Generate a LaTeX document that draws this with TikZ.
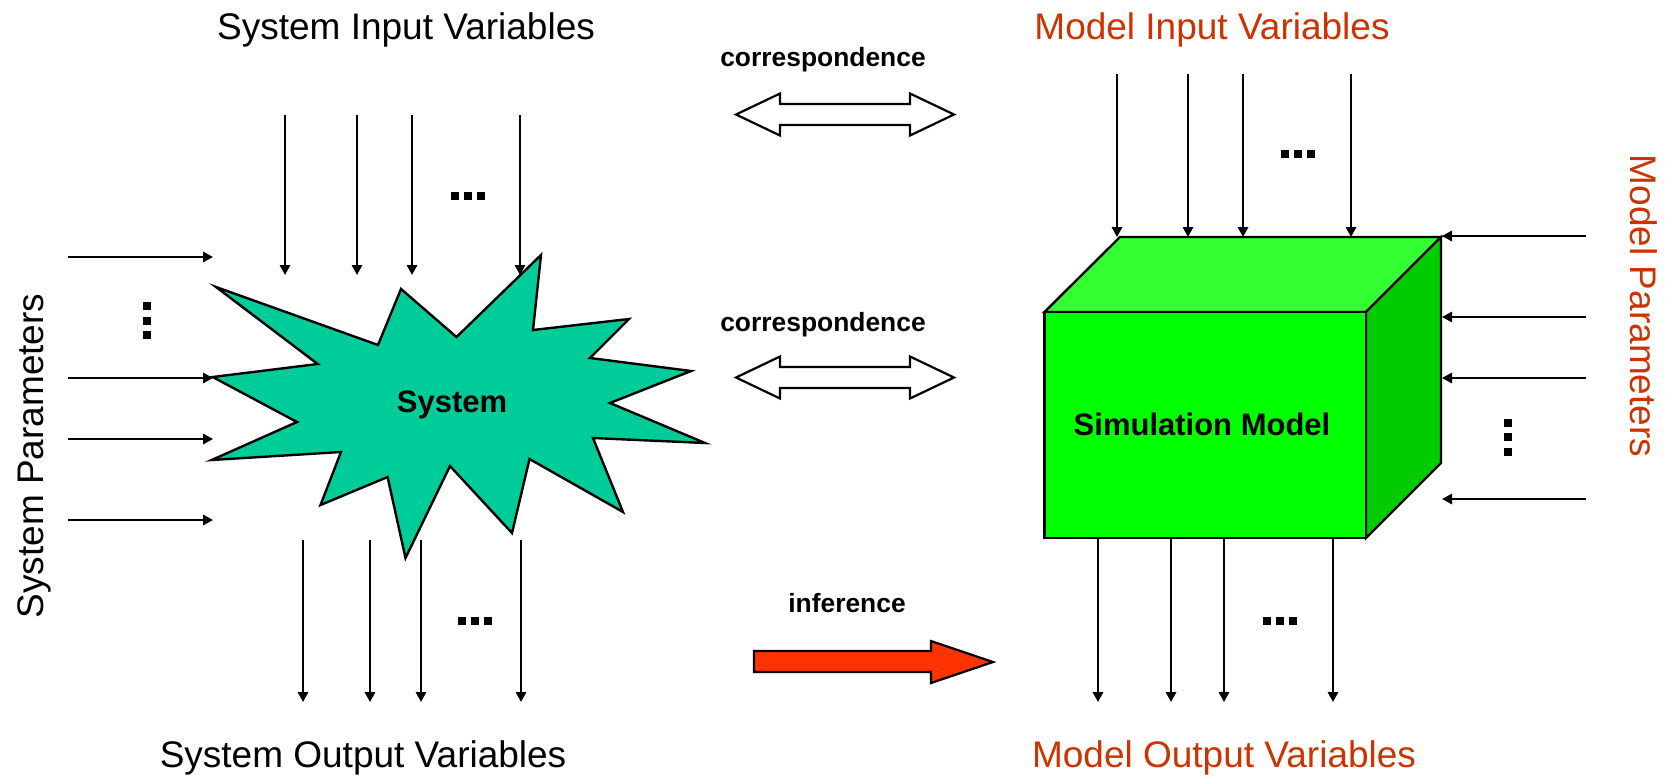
\documentclass[tikz,border=0pt]{standalone}
\usepackage{fontspec}
\setmainfont{Liberation Sans}
\usetikzlibrary{arrows.meta}
\definecolor{modelred}{RGB}{204,51,0}
\definecolor{starfill}{RGB}{0,204,153}
\definecolor{cubefront}{RGB}{0,255,0}
\definecolor{cubetop}{RGB}{51,255,51}
\definecolor{cubeside}{RGB}{0,204,0}
\definecolor{infred}{RGB}{255,51,0}
\begin{document}
\begin{tikzpicture}[x=0.5pt,y=-0.5pt,
  flow/.style={line width=1pt,-{Triangle[length=5pt,width=5.2pt]}},
  outline/.style={line width=1.2pt,line join=miter,draw=black},
  bigtext/.style={inner sep=0pt,anchor=base,font=\fontsize{18.5}{22}\selectfont},
  boldtext/.style={inner sep=0pt,anchor=base,font=\bfseries\fontsize{15.5}{18}\selectfont},
  smalltext/.style={inner sep=0pt,anchor=base,font=\bfseries\fontsize{13.2}{16}\selectfont},
  hdots/.pic={\foreach \d in {-13,0,13}{\fill (\d-4,-4) rectangle (\d+4,4);}},
  vdots/.pic={\foreach \d in {-14.5,0,14.5}{\fill (-4,\d-4) rectangle (4,\d+4);}},
  dblarrow/.pic={\draw[line width=1.1pt,fill=white,line join=miter]
      (-109,0) -- (-65,-21) -- (-65,-10.5) -- (65,-10.5) -- (65,-21) -- (109,0)
      -- (65,21) -- (65,10.5) -- (-65,10.5) -- (-65,21) -- cycle;},
]
\useasboundingbox (0,0) rectangle (1665,778);

% the real system: a jagged burst
\draw[outline,fill=starfill] (216,287) -- (378,345) -- (401,289) -- (456.5,337)
  -- (541,255) -- (533,330) -- (629,319) -- (590,358) -- (691,371) -- (610,403)
  -- (705,443) -- (593,438) -- (623,512) -- (529.5,459) -- (512,533) -- (450,466)
  -- (405.5,558) -- (387.6,477) -- (320.5,505) -- (341,452) -- (211.7,460)
  -- (297,422) -- (212.7,377) -- (317.7,364) -- cycle;
\node[boldtext] (system) at (452,412) {System};

% the simulation model: a cube
\draw[outline,fill=cubetop] (1044.5,312) -- (1120,237) -- (1441,237) -- (1366,312) -- cycle;
\draw[outline,fill=cubeside] (1366,312) -- (1441,237) -- (1441,463) -- (1366,538) -- cycle;
\draw[outline,fill=cubefront] (1044.5,312) rectangle (1366,538);
\node[boldtext] (model) at (1202,435) {Simulation Model};

% system inputs, outputs and parameters
\foreach \x [count=\i] in {285,357,412,520}{
  \coordinate (sinA\i) at (\x,115); \coordinate (sinB\i) at (\x,275);
  \draw[flow] (sinA\i) -- (sinB\i);}
\foreach \x [count=\i] in {303,370,421,521}{
  \coordinate (soutA\i) at (\x,540); \coordinate (soutB\i) at (\x,702);
  \draw[flow] (soutA\i) -- (soutB\i);}
\foreach \y [count=\i] in {257,378,439,520}{
  \coordinate (sparA\i) at (68,\y); \coordinate (sparB\i) at (213,\y);
  \draw[flow] (sparA\i) -- (sparB\i);}

% model inputs, outputs and parameters
\foreach \x [count=\i] in {1117,1188,1243,1351}{
  \coordinate (minA\i) at (\x,74); \coordinate (minB\i) at (\x,237);
  \draw[flow] (minA\i) -- (minB\i);}
\foreach \x [count=\i] in {1098,1171,1224,1333}{
  \coordinate (moutA\i) at (\x,538); \coordinate (moutB\i) at (\x,702);
  \draw[flow] (moutA\i) -- (moutB\i);}
\foreach \y [count=\i] in {236,317,378,499}{
  \coordinate (mparA\i) at (1586,\y); \coordinate (mparB\i) at (1442,\y);
  \draw[flow] (mparA\i) -- (mparB\i);}

% ellipses for further variables
\pic at (467.5,196) {hdots};
\pic at (474.5,621) {hdots};
\pic at (1298,154) {hdots};
\pic at (1280,621) {hdots};
\pic at (147,320.5) {vdots};
\pic at (1508,437) {vdots};

% group labels
\node[bigtext] (sinlbl) at (406,39) {System Input Variables};
\node[bigtext] (soutlbl) at (363,767) {System Output Variables};
\node[bigtext,rotate=90] (sparlbl) at (43,456) {System Parameters};
\node[bigtext,text=modelred] (minlbl) at (1212,39) {Model Input Variables};
\node[bigtext,text=modelred] (moutlbl) at (1224,767) {Model Output Variables};
\node[bigtext,text=modelred,rotate=-90] (mparlbl) at (1630,306) {Model Parameters};

% relations between system and model
\node[smalltext] (corr1) at (823,66) {correspondence};
\pic at (845,114.5) {dblarrow};
\node[smalltext] (corr2) at (823,331) {correspondence};
\pic at (845,377.5) {dblarrow};
\node[smalltext] (infer) at (847,612) {inference};
\draw[line width=1.1pt,fill=infred,line join=miter] (754,651) -- (931,651) -- (931,641)
  -- (993,662) -- (931,683) -- (931,672) -- (754,672) -- cycle;
\end{tikzpicture}
\end{document}
